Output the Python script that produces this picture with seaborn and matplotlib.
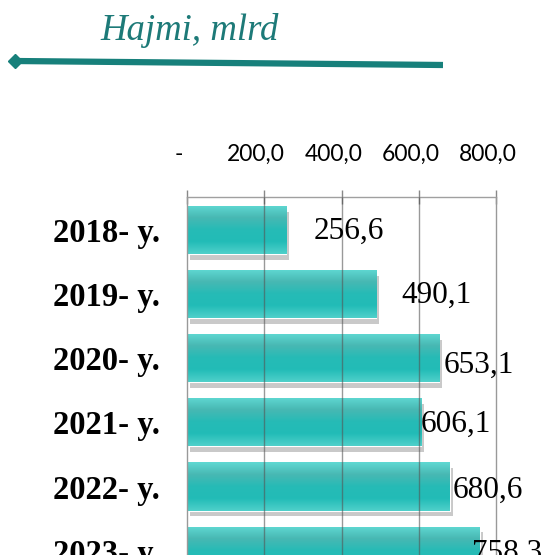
"""
Horizontal bar chart: Hajmi, mlrd (2018-2023).
"""
import numpy as np
import pandas as pd
import matplotlib
matplotlib.use('Agg')
import matplotlib.pyplot as plt
import matplotlib.patheffects as pe
import matplotlib.transforms as mtransforms
from matplotlib.colors import LinearSegmentedColormap
from matplotlib.lines import Line2D
import seaborn as sns

# Data
years = ['2018- y.', '2019- y.', '2020- y.', '2021- y.', '2022- y.', '2023- y.']
values = [256.6, 490.1, 653.1, 606.1, 680.6, 758.3]
value_labels = ['256,6', '490,1', '653,1', '606,1', '680,6', '758,3']
tick_values = [0, 200, 400, 600, 800]
tick_labels = ['-', '200,0', '400,0', '600,0', '800,0']
title = 'Hajmi, mlrd'

df = pd.DataFrame({'year': years, 'value': values})

sns.set_style('white')
plt.rcParams['text.color'] = 'black'
plt.rcParams['xtick.color'] = 'black'
plt.rcParams['ytick.color'] = 'black'
fig = plt.figure(figsize=(5.57, 5.55), dpi=100)

# axes placed so the last row is cut by the bottom edge, like the source
ax = fig.add_axes([187 / 557, 1 - 589 / 555, (496 - 187) / 557, (589 - 197) / 555])

sns.barplot(data=df, x='value', y='year', orient='h', ax=ax, color='#2fbdb8',
            width=0.75, edgecolor='white', linewidth=1.5, zorder=2)

# gradient fill + soft shadow on each bar
grad = LinearSegmentedColormap.from_list(
    'bar', ['#5fd8d2', '#48b8b3', '#26bbb6', '#22bcb7', '#4fd0ca'])
for p in ax.patches:
    x0, y0 = p.get_x(), p.get_y()
    w, h = p.get_width(), p.get_height()
    p.set_path_effects([pe.SimplePatchShadow(offset=(2, -4), shadow_rgbFace='#888888', alpha=0.45),
                        pe.Normal()])
    img = ax.imshow(np.linspace(0, 1, 64).reshape(-1, 1), cmap=grad, aspect='auto',
                    extent=(x0, x0 + w, y0 + h, y0), zorder=2.5)
    img.set_clip_path(p)

ax.set_xlim(0, 800)
ax.set_ylim(5.6, -0.52)

# gridlines drawn over the bars
for v in tick_values:
    inner = v not in (0, 800)
    ax.axvline(v, color='#555555' if inner else '#999999',
               lw=1.0, alpha=0.6 if inner else 1.0, zorder=3, clip_on=False)

for s in ['bottom', 'left', 'right']:
    ax.spines[s].set_visible(False)
ax.spines['top'].set_color('#a0a0a0')
ax.spines['top'].set_linewidth(1.0)

ax.xaxis.tick_top()
ax.set_xticks(tick_values)
ax.set_xticklabels(tick_labels, fontsize=16.5, fontfamily='Lato', color='black')
ax.tick_params(axis='x', direction='inout', length=10, width=1, color='#888888', pad=18)
shift = mtransforms.ScaledTranslation(-8 / 100, 0, fig.dpi_scale_trans)
for lab in ax.get_xticklabels():
    lab.set_transform(lab.get_transform() + shift)
ax.set_xlabel('')
ax.set_ylabel('')
ax.tick_params(axis='y', length=0, pad=19.5)
for lab in ax.get_yticklabels():
    lab.set_fontfamily('Liberation Serif')
    lab.set_fontweight('bold')
    lab.set_fontsize(23.5)
    lab.set_color('black')

# value labels (hand-placed in the source, offsets in points)
label_dx = [20, 18, 3, 0, 2, -6]
label_dy = [-1, -1, -5, -1, -3, -2]
for i, (v, lbl) in enumerate(zip(values, value_labels)):
    ax.annotate(lbl, (v, i), xytext=(label_dx[i], label_dy[i]), textcoords='offset points',
                va='center', ha='left', fontsize=22.5, fontfamily='Liberation Serif',
                color='black', annotation_clip=False, zorder=4)

# header
fig.text(100 / 557, 1 - 30 / 555, title, fontsize=26.5, style='italic',
         fontfamily='Liberation Serif', color='#1d7a78', va='center', ha='left')
fig.add_artist(Line2D([15 / 557, 443 / 557], [1 - 61 / 555, 1 - 65 / 555],
                      transform=fig.transFigure, color='#17807b', lw=4.5,
                      marker='D', markevery=[0], markersize=7, solid_capstyle='butt'))

plt.savefig('out.png', dpi=100)
